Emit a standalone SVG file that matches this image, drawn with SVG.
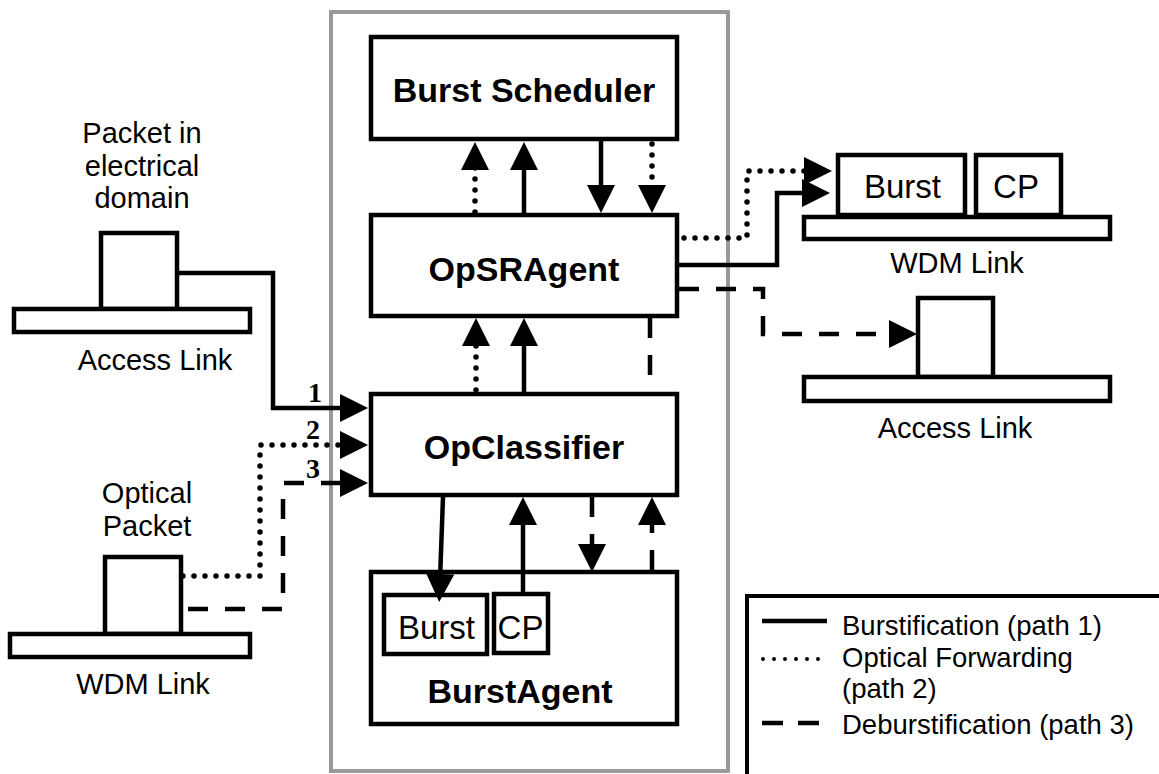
<svg xmlns="http://www.w3.org/2000/svg" width="1159" height="774" viewBox="0 0 1159 774">
  <style>
    .box { fill: #fff; stroke: #000; stroke-width: 4.5; }
    .frame { fill: none; stroke: #999; stroke-width: 4; }
    .bold { font-family: "Liberation Sans", Arial, sans-serif; font-weight: bold; font-size: 34px; text-anchor: middle; fill: #000; }
    .lbl { font-family: "Liberation Sans", Arial, sans-serif; font-size: 29px; text-anchor: middle; fill: #000; }
    .pkt { font-family: "Liberation Sans", Arial, sans-serif; font-size: 33px; text-anchor: middle; fill: #000; }
    .num { font-family: "Liberation Serif", "Times New Roman", serif; font-weight: bold; font-size: 28px; text-anchor: middle; fill: #000; }
    .leg { font-family: "Liberation Sans", Arial, sans-serif; font-size: 27.5px; fill: #000; }
    .solid { fill: none; stroke: #000; stroke-width: 4.5; }
    .dot { fill: none; stroke: #000; stroke-width: 5.5; stroke-linecap: round; stroke-dasharray: 0 11; }
    .dash { fill: none; stroke: #000; stroke-width: 4.5; stroke-dasharray: 20 17; }
  </style>
  <defs>
    <marker id="arrow" markerUnits="userSpaceOnUse" viewBox="0 0 28 28" markerWidth="28" markerHeight="28" refX="6" refY="14" orient="auto">
      <path d="M0,0 L28,14 L0,28 Z" fill="#000"/>
    </marker>
  </defs>

  <rect width="1159" height="774" fill="#fff"/>

  <!-- router boundary -->
  <rect id="router-frame" class="frame" x="331" y="12" width="397" height="759"/>

  <!-- router components -->
  <g id="burst-scheduler">
    <rect class="box" x="371" y="37" width="306" height="102"/>
    <text class="bold" x="524" y="102">Burst Scheduler</text>
  </g>
  <g id="opsragent">
    <rect class="box" x="371" y="215" width="306" height="101"/>
    <text class="bold" x="524" y="281">OpSRAgent</text>
  </g>
  <g id="opclassifier">
    <rect class="box" x="371" y="394" width="306" height="101"/>
    <text class="bold" x="524" y="459">OpClassifier</text>
  </g>
  <g id="burstagent">
    <rect class="box" x="371" y="572" width="306" height="152"/>
    <rect class="box" x="384" y="595" width="103" height="59"/>
    <text class="pkt" x="436.5" y="639">Burst</text>
    <rect class="box" x="494" y="594" width="54" height="59"/>
    <text class="pkt" x="520.5" y="639">CP</text>
    <text class="bold" x="520" y="703">BurstAgent</text>
  </g>

  <!-- left side: incoming links -->
  <g id="access-link-in">
    <text class="lbl" x="142" y="143">Packet in</text>
    <text class="lbl" x="142" y="176">electrical</text>
    <text class="lbl" x="142" y="208">domain</text>
    <rect class="box" x="101" y="233" width="76" height="76"/>
    <rect class="box" x="14" y="309" width="236" height="23"/>
    <text class="lbl" x="155" y="370">Access Link</text>
  </g>
  <g id="wdm-link-in">
    <text class="lbl" x="147" y="503">Optical</text>
    <text class="lbl" x="147" y="536">Packet</text>
    <rect class="box" x="105" y="557" width="76" height="77"/>
    <rect class="box" x="10" y="634" width="240" height="23"/>
    <text class="lbl" x="143" y="694">WDM Link</text>
  </g>

  <!-- right side: outgoing links -->
  <g id="wdm-link-out">
    <rect class="box" x="838" y="155" width="127" height="60"/>
    <text class="pkt" x="902.5" y="198">Burst</text>
    <rect class="box" x="976" y="155" width="85" height="60"/>
    <text class="pkt" x="1016" y="198">CP</text>
    <rect class="box" x="804" y="217" width="306" height="22"/>
    <text class="lbl" x="957" y="273">WDM Link</text>
  </g>
  <g id="access-link-out">
    <rect class="box" x="918" y="298" width="75" height="79"/>
    <rect class="box" x="804" y="377" width="306" height="24"/>
    <text class="lbl" x="955" y="438">Access Link</text>
  </g>

  <!-- connectors -->
  <g id="connectors">
    <!-- inputs into the classifier -->
    <polyline class="solid" points="179,273 273,273 273,408 346,408" marker-end="url(#arrow)"/>
    <polyline class="dot" points="183,576 260,576 260,445 346,445" marker-end="url(#arrow)"/>
    <polyline class="dash" points="188,609 283,609 283,483 346,483" marker-end="url(#arrow)"/>

    <!-- scheduler <-> OpSRAgent -->
    <line class="dot" x1="475" y1="212" x2="475" y2="164" marker-end="url(#arrow)"/>
    <line class="solid" x1="524" y1="213" x2="524" y2="164" marker-end="url(#arrow)"/>
    <line class="solid" x1="601" y1="141" x2="601" y2="191" marker-end="url(#arrow)"/>
    <line class="dot" x1="652" y1="144" x2="652" y2="191" marker-end="url(#arrow)"/>

    <!-- classifier -> OpSRAgent -->
    <line class="dot" x1="476" y1="390" x2="476" y2="340" marker-end="url(#arrow)"/>
    <line class="solid" x1="524" y1="392" x2="524" y2="340" marker-end="url(#arrow)"/>
    <line class="dash" x1="650" y1="318" x2="650" y2="392"/>

    <!-- classifier <-> BurstAgent -->
    <line class="solid" x1="443" y1="497" x2="440" y2="580" marker-end="url(#arrow)"/>
    <line class="solid" x1="523" y1="592" x2="523" y2="519" marker-end="url(#arrow)"/>
    <line class="dash" x1="592" y1="497" x2="592" y2="550" marker-end="url(#arrow)"/>
    <line class="dash" x1="652" y1="570" x2="652" y2="519" marker-end="url(#arrow)"/>

    <!-- OpSRAgent outputs -->
    <polyline class="dot" points="684,238 747,238 747,171 810,171" marker-end="url(#arrow)"/>
    <polyline class="solid" points="679,265 777,265 777,193 808,193" marker-end="url(#arrow)"/>
    <polyline class="dash" points="679,289 763,289 763,334 895,334" marker-end="url(#arrow)"/>

    <!-- path numbers -->
    <text class="num" x="315" y="402">1</text>
    <text class="num" x="313" y="439">2</text>
    <text class="num" x="313" y="478">3</text>
  </g>

  <!-- legend -->
  <g id="legend">
    <rect x="747" y="596" width="420" height="200" fill="#fff" stroke="#000" stroke-width="4"/>
    <line x1="762" y1="621" x2="827" y2="621" stroke="#000" stroke-width="4.5"/>
    <text class="leg" x="842" y="635">Burstification (path 1)</text>
    <line x1="763" y1="659" x2="827" y2="659" stroke="#000" stroke-width="4" stroke-linecap="round" stroke-dasharray="0 11"/>
    <text class="leg" x="842" y="667">Optical Forwarding</text>
    <text class="leg" x="842" y="698">(path 2)</text>
    <line x1="762" y1="723" x2="822" y2="723" stroke="#000" stroke-width="4.5" stroke-dasharray="21 15"/>
    <text class="leg" x="842" y="734">Deburstification (path 3)</text>
  </g>
</svg>
